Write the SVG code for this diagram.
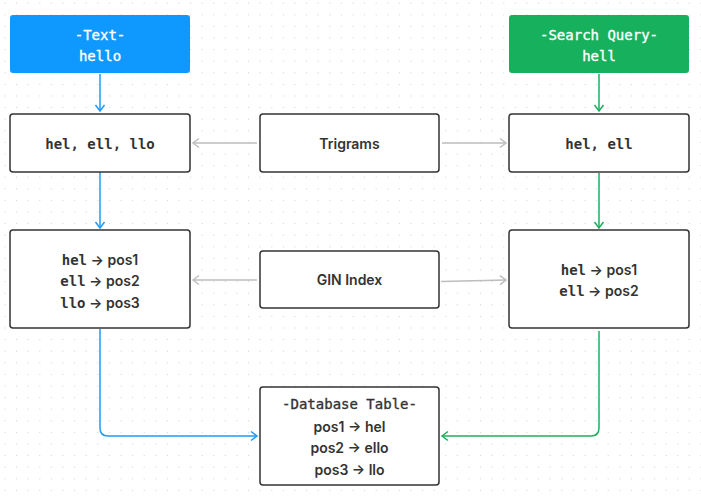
<svg xmlns="http://www.w3.org/2000/svg" width="701" height="500" viewBox="0 0 701 500">
<defs>
<pattern id="dots" x="4.5" y="2.7" width="11.6" height="11.6" patternUnits="userSpaceOnUse">
<rect x="0" y="0" width="1" height="1" fill="#cfcfcf"/>
</pattern>
<marker id="ab" viewBox="0 0 12 12" refX="10" refY="6" markerWidth="12" markerHeight="12" markerUnits="userSpaceOnUse" orient="auto">
<polyline points="4,1.5 10,6 4,10.5" fill="none" stroke="#1f9bf7" stroke-width="1.5"/>
</marker>
<marker id="ag" viewBox="0 0 12 12" refX="10" refY="6" markerWidth="12" markerHeight="12" markerUnits="userSpaceOnUse" orient="auto">
<polyline points="4,1.5 10,6 4,10.5" fill="none" stroke="#1fae5f" stroke-width="1.5"/>
</marker>
<marker id="ay" viewBox="0 0 12 12" refX="10" refY="6" markerWidth="12" markerHeight="12" markerUnits="userSpaceOnUse" orient="auto">
<polyline points="4,1.5 10,6 4,10.5" fill="none" stroke="#bdbdbd" stroke-width="1.5"/>
</marker>
</defs>
<style>
.box{fill:#fff;stroke:#333;stroke-width:1.5}
.mono{font-family:"DejaVu Sans Mono","Liberation Mono",monospace;font-size:14px;fill:#333}
.med{stroke:#333;stroke-width:0.35px}
.monob{font-family:"DejaVu Sans Mono","Liberation Mono",monospace;font-size:14px;font-weight:bold;fill:#333}
.sans{font-family:Inter,"Liberation Sans",sans-serif;font-size:14px;font-weight:600;fill:#333}
.wh{fill:#fff;stroke:#fff;stroke-width:0.35px}
.cb{fill:none;stroke:#1f9bf7;stroke-width:1.5}
.cg{fill:none;stroke:#1fae5f;stroke-width:1.5}
.cy{fill:none;stroke:#bdbdbd;stroke-width:1.5}
</style>
<rect width="701" height="500" fill="#fff"/>
<rect width="701" height="500" fill="url(#dots)"/>
<g id="connectors">
<line class="cb" x1="100" y1="74" x2="100" y2="111" marker-end="url(#ab)"/>
<line class="cb" x1="100" y1="172" x2="100" y2="228" marker-end="url(#ab)"/>
<path class="cb" d="M100,329 V428 Q100,436 108,436 H257" marker-end="url(#ab)"/>
<line class="cg" x1="599" y1="74" x2="599" y2="111" marker-end="url(#ag)"/>
<line class="cg" x1="599" y1="173" x2="599" y2="228" marker-end="url(#ag)"/>
<path class="cg" d="M599,331 V428 Q599,436 591,436 H442" marker-end="url(#ag)"/>
<line class="cy" x1="257" y1="143" x2="193" y2="143" marker-end="url(#ay)"/>
<line class="cy" x1="442" y1="143" x2="506" y2="143" marker-end="url(#ay)"/>
<line class="cy" x1="257" y1="280" x2="193" y2="280" marker-end="url(#ay)"/>
<line class="cy" x1="441" y1="281.5" x2="506" y2="280" marker-end="url(#ay)"/>
</g>
<g id="text-node">
<rect x="10" y="15" width="180" height="58" rx="3" fill="#0f99ff"/>
<text class="mono wh" x="100" y="39.5" text-anchor="middle">-Text-</text>
<text class="mono wh" x="100" y="61" text-anchor="middle">hello</text>
</g>
<g id="search-node">
<rect x="509" y="15" width="180" height="58" rx="3" fill="#17b05c"/>
<text class="mono wh" x="599" y="39.5" text-anchor="middle">-Search Query-</text>
<text class="mono wh" x="599" y="61" text-anchor="middle">hell</text>
</g>
<g id="trigrams-left">
<rect class="box" x="10" y="114" width="180" height="58" rx="3"/>
<text class="monob" x="100" y="149" text-anchor="middle">hel, ell, llo</text>
</g>
<g id="trigrams">
<rect class="box" x="260" y="114" width="179" height="58" rx="3"/>
<text class="sans" x="349.5" y="148.5" text-anchor="middle">Trigrams</text>
</g>
<g id="trigrams-right">
<rect class="box" x="509" y="114" width="180" height="58" rx="3"/>
<text class="monob" x="599" y="149" text-anchor="middle">hel, ell</text>
</g>
<g id="index-left">
<rect class="box" x="10" y="230" width="180" height="98" rx="3"/>
<text class="sans" x="100" y="264.5" text-anchor="middle"><tspan class="monob">hel</tspan> → pos1</text>
<text class="sans" x="100" y="286" text-anchor="middle"><tspan class="monob">ell</tspan> → pos2</text>
<text class="sans" x="100" y="307.5" text-anchor="middle"><tspan class="monob">llo</tspan> → pos3</text>
</g>
<g id="gin-index">
<rect class="box" x="260" y="251" width="179" height="57" rx="3"/>
<text class="sans" x="349.5" y="285" text-anchor="middle">GIN Index</text>
</g>
<g id="index-right">
<rect class="box" x="509" y="230" width="180" height="98" rx="3"/>
<text class="sans" x="599" y="274.5" text-anchor="middle"><tspan class="monob">hel</tspan> → pos1</text>
<text class="sans" x="599" y="296" text-anchor="middle"><tspan class="monob">ell</tspan> → pos2</text>
</g>
<g id="database-table">
<rect class="box" x="260" y="387" width="179" height="98" rx="3"/>
<text class="mono med" x="349.5" y="409" text-anchor="middle">-Database Table-</text>
<text class="sans" x="349.5" y="431.5" text-anchor="middle">pos1 → hel</text>
<text class="sans" x="349.5" y="453" text-anchor="middle">pos2 → ello</text>
<text class="sans" x="349.5" y="474.5" text-anchor="middle">pos3 → llo</text>
</g>
</svg>
